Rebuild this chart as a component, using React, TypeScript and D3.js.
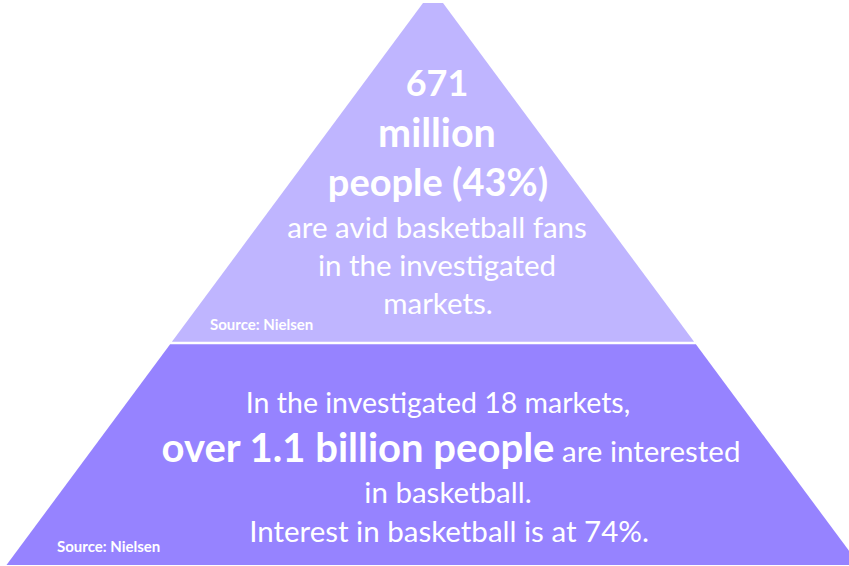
import * as d3 from "d3";

// pyramid layers, top to bottom; bounds are fractions of the pyramid height
const layerNames = ["Avid fans", "Interested"];
const layerBounds = [0, 0.605, 1];
const layerColors = ["#bfb5ff", "#9683ff"];
const sourceLabel = "Source: Nielsen";

type Seg = { text: string; bold: boolean };
const topLines: Seg[][] = [
  [{ text: "671", bold: true }],
  [{ text: "million", bold: true }],
  [{ text: "people (43%)", bold: true }],
  [{ text: "are avid basketball fans", bold: false }],
  [{ text: "in the investigated", bold: false }],
  [{ text: "markets.", bold: false }],
];
const bottomLines: Seg[][] = [
  [{ text: "In the investigated 18 markets,", bold: false }],
  [
    { text: "over 1.1 billion people", bold: true },
    { text: " are interested", bold: false },
  ],
  [{ text: "in basketball.", bold: false }],
  [{ text: "Interest in basketball is at 74%.", bold: false }],
];

const W = 849;
const H = 566;
const FONT = "Lato, 'Open Sans', sans-serif";

export default function App() {
  const cx = 433;
  const y = d3.scaleLinear().domain([0, 1]).range([3, 565]);
  // half width of the pyramid as a function of the pixel y
  const half = d3.scaleLinear().domain([3, 565]).range([10, 426.5]);
  const gap = 1.2;

  const polygons = layerNames.map((_, i) => {
    const t = y(layerBounds[i]) + (i > 0 ? gap : 0);
    const b = y(layerBounds[i + 1]) - (i < layerNames.length - 1 ? gap : 0);
    const pts: [number, number][] = [
      [cx - half(t), t],
      [cx + half(t), t],
      [cx + half(b), b],
      [cx - half(b), b],
    ];
    return d3.line()(pts) + "Z";
  });

  const topBase = [96, 147, 196, 238, 276, 314];
  const topSize = [36, 39.5, 38, 29.5, 29.5, 29.5];
  const topX = [437, 437, 438, 437, 437, 438];
  const botBase = [413, 462, 503, 542];
  const botSize = [28.5, 40, 29.5, 29.5];
  const botX = [438, 451, 448, 449];

  const renderLines = (lines: Seg[][], bases: number[], sizes: number[], xs: number[]) =>
    lines.map((segs, i) => (
      <text
        key={i}
        x={xs[i]}
        y={bases[i]}
        textAnchor="middle"
        fill="#ffffff"
        fontFamily={FONT}
        fontSize={sizes[i]}
      >
        {segs.map((s, j) => (
          <tspan key={j} fontWeight={s.bold ? 700 : 400} fontSize={s.bold ? sizes[i] : j > 0 ? 29.5 : sizes[i]}>
            {s.text}
          </tspan>
        ))}
      </text>
    ));

  return (
    <svg
      width={W}
      height={H}
      viewBox={`0 0 ${W} ${H}`}
      style={{ position: "absolute", left: 0, top: 0, background: "#fff" }}
    >
      {polygons.map((d, i) => (
        <path key={layerNames[i]} d={d} fill={layerColors[i]} />
      ))}
      {renderLines(topLines, topBase, topSize, topX)}
      {renderLines(bottomLines, botBase, botSize, botX)}
      <text x={210} y={330} fill="#ffffff" fontFamily={FONT} fontWeight={700} fontSize={15}>
        {sourceLabel}
      </text>
      <text x={57} y={552} fill="#ffffff" fontFamily={FONT} fontWeight={700} fontSize={15}>
        {sourceLabel}
      </text>
    </svg>
  );
}
